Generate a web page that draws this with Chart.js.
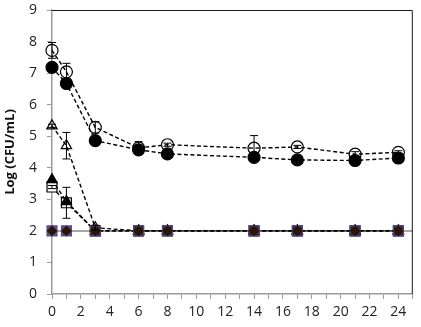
<!DOCTYPE html>
<html>
<head>
<meta charset="utf-8">
<script src="https://cdn.jsdelivr.net/npm/chart.js@4"></script>
<style>
  html, body { margin: 0; padding: 0; background: #fff; }
  #wrap { width: 421px; height: 327px; }
</style>
</head>
<body>
<div id="wrap"><canvas id="survivalChart" width="421" height="327"></canvas></div>
<script>
// Tiempos de muestreo (h) y recuentos en log CFU/mL
const times = [0, 1, 3, 6, 8, 14, 17, 21, 24];
const xTicks = [0, 2, 4, 6, 8, 10, 12, 14, 16, 18, 20, 22, 24];
const yTicks = [0, 1, 2, 3, 4, 5, 6, 7, 8, 9];

const openCircle = [7.72, 7.04, 5.28, 4.63, 4.73, 4.62, 4.66, 4.43, 4.49];
const openCircleErr = [0.25, 0.27, 0.18, 0.2, 0.05, 0.4, 0.05, 0.08, 0.05];
const filledCircle = [7.18, 6.67, 4.86, 4.57, 4.44, 4.33, 4.25, 4.23, 4.31];
const filledCircleErr = [0.05, 0.05, 0.05, 0.1, 0.05, 0.05, 0.05, 0.05, 0.05];
const openTriangle = [5.33, 4.70, 2.1, 2, 2, 2, 2, 2, 2];
const openTriangleErr = [0.05, 0.42, 0.08, 0, 0, 0, 0, 0, 0];
const filledTriangle = [3.62, 2.93, 2.0, 2, 2, 2, 2, 2, 2];
const openSquare = [3.39, 2.89, 2.0, 2, 2, 2, 2, 2, 2];
const openSquareErr = [0.05, 0.49, 0, 0, 0, 0, 0, 0, 0];
const limitSquare = [2, 2, 2, 2, 2, 2, 2, 2, 2];
const limitDiamond = [2, 2, 2, 2, 2, 2, 2, 2, 2];
const detectionLimit = 2;

const toPoints = vals => times.map((t, i) => ({ x: t, y: vals[i] }));

function series(vals, err, style) {
    return Object.assign({
        data: toPoints(vals),
        errors: err,
        clip: false,
        borderColor: '#000',
        borderWidth: 1.4,
        borderDash: [4, 2.5],
        pointBorderColor: '#000',
        pointBorderWidth: 1.2,
        tension: 0
    }, style);
}

// Barras de error verticales con remate
const errorBars = {
    id: 'errorBars',
    afterDatasetsDraw(chart) {
        const { ctx, scales: { x, y } } = chart;
        ctx.save();
        ctx.strokeStyle = '#000';
        ctx.lineWidth = 1;
        chart.data.datasets.forEach(ds => {
            if (!ds.errors) return;
            ds.data.forEach((p, i) => {
                const e = ds.errors[i];
                if (!e) return;
                const px = x.getPixelForValue(p.x);
                const top = y.getPixelForValue(p.y + e);
                const bot = y.getPixelForValue(p.y - e);
                ctx.beginPath();
                ctx.moveTo(px, top); ctx.lineTo(px, bot);
                ctx.moveTo(px - 4, top); ctx.lineTo(px + 4, top);
                ctx.moveTo(px - 4, bot); ctx.lineTo(px + 4, bot);
                ctx.stroke();
            });
        });
        ctx.restore();
    }
};

// Marco superior y derecho
const frame = {
    id: 'frame',
    afterDraw(chart) {
        const { ctx, chartArea: a } = chart;
        ctx.save();
        ctx.strokeStyle = '#1a1a1a';
        ctx.lineWidth = 1;
        ctx.beginPath();
        ctx.moveTo(a.left, a.top + 0.5);
        ctx.lineTo(a.right - 0.5, a.top + 0.5);
        ctx.lineTo(a.right - 0.5, a.bottom);
        ctx.stroke();
        ctx.restore();
    }
};

const ctx = document.getElementById('survivalChart').getContext('2d');
new Chart(ctx, {
    type: 'line',
    data: {
        datasets: [
            series(openCircle, openCircleErr, {
                pointStyle: 'circle', pointRadius: 6, pointBackgroundColor: 'rgba(255,255,255,0)'
            }),
            series(filledCircle, filledCircleErr, {
                pointStyle: 'circle', pointRadius: 6, pointBackgroundColor: '#000'
            }),
            series(limitDiamond, null, {
                showLine: false, pointStyle: 'rectRot', pointRadius: 4.5,
                pointBackgroundColor: '#2a1608', pointBorderColor: '#2a1608'
            }),
            series(limitSquare, null, {
                showLine: false, pointStyle: 'rect', pointRadius: 7,
                pointBackgroundColor: c => c.dataIndex < 2 ? '#5f4d8c' : '#2e2438',
                pointBorderColor: '#5a4a80'
            }),
            series(openTriangle, openTriangleErr, {
                pointStyle: 'triangle', pointRadius: 6, pointBackgroundColor: 'rgba(255,255,255,0)'
            }),
            series(filledTriangle, null, {
                pointStyle: 'triangle', pointRadius: 6, pointBackgroundColor: '#000'
            }),
            series(openSquare, openSquareErr, {
                pointStyle: 'rect', pointRadius: 7, pointBackgroundColor: '#fff'
            }),
            {
                data: [{ x: 0, y: detectionLimit }, { x: 25, y: detectionLimit }],
                borderColor: '#a6a6a6',
                borderWidth: 2,
                pointRadius: 0
            }
        ]
    },
    options: {
        responsive: false,
        animation: false,
        layout: { padding: { top: 10, right: 4, left: 0, bottom: 0 } },
        plugins: { legend: { display: false }, tooltip: { enabled: false } },
        scales: {
            x: {
                type: 'linear', min: 0, max: 25,
                afterBuildTicks: s => { s.ticks = Array.from({ length: 26 }, (_, i) => ({ value: i })); },
                afterFit: s => { s.height = 33; s.paddingLeft = 0; s.paddingRight = 0; },
                ticks: {
                    autoSkip: false, maxRotation: 0, padding: 5,
                    color: '#222', font: { family: 'Open Sans', size: 14 },
                    callback: v => xTicks.includes(v) ? String(v) : ''
                },
                grid: { drawOnChartArea: false, tickLength: 5, color: '#9a9a9a', tickWidth: 1 },
                border: { color: '#9a9a9a', width: 1.5 }
            },
            y: {
                type: 'linear', min: 0, max: 9,
                afterBuildTicks: s => { s.ticks = yTicks.map(v => ({ value: v })); },
                afterFit: s => { s.width = 52; s.paddingTop = 0; s.paddingBottom = 0; },
                ticks: {
                    padding: 10, color: '#222', font: { family: 'Open Sans', size: 14 }
                },
                grid: { drawOnChartArea: false, tickLength: 5, color: '#9a9a9a', tickWidth: 1 },
                border: { color: '#9a9a9a', width: 1.5 },
                title: {
                    display: true, text: 'Log (CFU/mL)', color: '#111',
                    font: { family: 'Open Sans', size: 13, weight: 'bold' }, padding: { top: 2, bottom: 0 }
                }
            }
        }
    },
    plugins: [errorBars, frame]
});
</script>
</body>
</html>
